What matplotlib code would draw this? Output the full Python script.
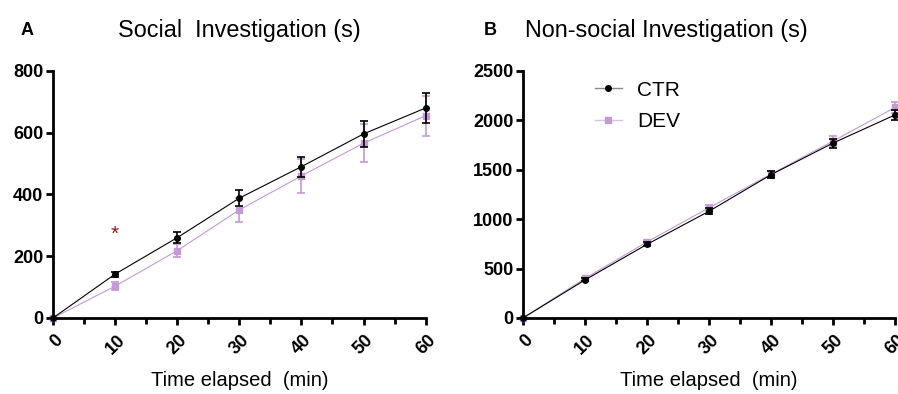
import matplotlib
matplotlib.use("Agg")
import matplotlib.pyplot as plt
import numpy as np
import matplotlib.transforms as mtransforms
from matplotlib.lines import Line2D

plt.rcParams['font.family'] = ['Liberation Sans', 'DejaVu Sans']

time_min = [0, 10, 20, 30, 40, 50, 60]

social_ctr = [0, 142, 260, 388, 490, 596, 680]
social_ctr_err = [0, 8, 18, 25, 32, 42, 50]
social_dev = [0, 103, 218, 350, 460, 566, 655]
social_dev_err = [0, 12, 22, 40, 55, 62, 65]

nonsocial_ctr = [0, 385, 745, 1080, 1450, 1770, 2055]
nonsocial_ctr_err = [0, 15, 20, 30, 35, 45, 50]
nonsocial_dev = [0, 400, 770, 1115, 1455, 1790, 2130]
nonsocial_dev_err = [0, 15, 20, 30, 35, 50, 60]

x_ticks = [0, 10, 20, 30, 40, 50, 60]
social_yticks = [0, 200, 400, 600, 800]
nonsocial_yticks = [0, 500, 1000, 1500, 2000, 2500]

CTR_COLOR = 'black'
DEV_COLOR = '#c49ad6'

fig = plt.figure(figsize=(8.98, 3.94), dpi=100)
axA = fig.add_axes([0.059, 0.193, 0.415, 0.627])
axB = fig.add_axes([0.5824, 0.193, 0.4143, 0.627])


def draw(ax, ctr, ctr_err, dev, dev_err, yticks, ymax):
    ax.errorbar(time_min, dev, yerr=dev_err, color=DEV_COLOR, marker='s', ms=4,
                lw=0.8, elinewidth=1.2, capsize=3, capthick=1.2, zorder=2,
                clip_on=False)
    ax.errorbar(time_min, ctr, yerr=ctr_err, color=CTR_COLOR, marker='o', ms=4,
                lw=0.8, elinewidth=1.2, capsize=3, capthick=1.2, zorder=3,
                clip_on=False)
    ax.set_xlim(0, 60)
    ax.set_ylim(0, ymax)
    ax.set_xticks(x_ticks)
    ax.set_xticks(np.arange(5, 60, 10), minor=True)
    ax.set_yticks(yticks)
    for s in ['top', 'right']:
        ax.spines[s].set_visible(False)
    for s in ['left', 'bottom']:
        ax.spines[s].set_linewidth(2)
    ax.tick_params(axis='both', which='major', width=2, length=5, labelsize=13)
    ax.tick_params(axis='y', pad=2)
    ax.tick_params(axis='x', which='minor', width=2, length=4)
    for lab in ax.get_xticklabels():
        lab.set_rotation(45)
        lab.set_fontweight('bold')
        lab.set_ha('right')
        lab.set_va('top')
        lab.set_rotation_mode('anchor')
    for lab in ax.get_yticklabels():
        lab.set_fontweight('bold')
    ax.set_xlabel('Time elapsed  (min)', fontsize=14.5, labelpad=10)
    offset = mtransforms.ScaledTranslation(1 / 72, -1 / 72, fig.dpi_scale_trans)
    for lab in ax.get_xticklabels():
        lab.set_transform(lab.get_transform() + offset)
    ax.patch.set_alpha(0)


draw(axA, social_ctr, social_ctr_err, social_dev, social_dev_err, social_yticks, 800)
draw(axB, nonsocial_ctr, nonsocial_ctr_err, nonsocial_dev, nonsocial_dev_err, nonsocial_yticks, 2500)

axA.text(10, 272, '*', color='#8b1a1a', fontsize=15, ha='center', va='center')

fig.text(0.267, 0.922, 'Social  Investigation (s)', fontsize=16.8, ha='center', va='center')
fig.text(0.742, 0.922, 'Non-social Investigation (s)', fontsize=16.8, ha='center', va='center')
fig.text(0.030, 0.922, 'A', fontsize=13, fontweight='bold', ha='center', va='center')
fig.text(0.546, 0.922, 'B', fontsize=13, fontweight='bold', ha='center', va='center')

handles = [
    Line2D([], [], color='#888888', lw=1, marker='o', ms=4,
           markerfacecolor=CTR_COLOR, markeredgecolor=CTR_COLOR),
    Line2D([], [], color='#d9c2e3', lw=1, marker='s', ms=4,
           markerfacecolor=DEV_COLOR, markeredgecolor=DEV_COLOR),
]
axB.legend(handles, ['CTR', 'DEV'], loc='upper left', bbox_to_anchor=(0.153, 1.02),
           frameon=False, fontsize=15, handlelength=1.3, handletextpad=0.75,
           labelspacing=0.6, borderaxespad=0.3)

fig.savefig('out.png', dpi=100)
